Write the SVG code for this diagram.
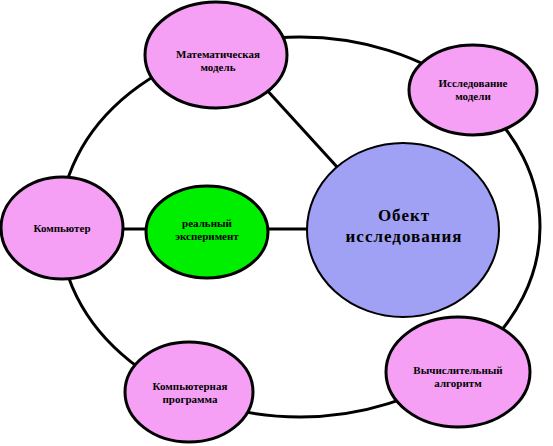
<svg xmlns="http://www.w3.org/2000/svg" width="553" height="446" viewBox="0 0 553 446">
<style>
.n{fill:#f5a0f5;stroke:#000;stroke-width:3}
.g{fill:#00ee00;stroke:#000;stroke-width:3}
.b{fill:#a0a0f5;stroke:#000;stroke-width:2}
.c{fill:none;stroke:#000;stroke-width:3}
text{font-family:"Liberation Serif","DejaVu Serif",serif;font-weight:bold;font-size:11px;text-anchor:middle;fill:#000}
.big{font-size:17px;letter-spacing:1px}
</style>
<rect width="553" height="446" fill="#fff"/>
<g id="connectors">
<ellipse class="c" cx="300" cy="227" rx="240" ry="190"/>
<line class="c" x1="265" y1="88" x2="338" y2="168"/>
<line class="c" x1="123" y1="229" x2="146" y2="229"/>
<line class="c" x1="268" y1="229" x2="308" y2="229"/>
</g>
<g id="mathmodel">
<ellipse class="n" cx="216" cy="55" rx="71" ry="53"/>
<text x="218" y="58">Математическая</text>
<text x="218" y="71">модель</text>
</g>
<g id="issledovanie">
<ellipse class="n" cx="473" cy="90" rx="64" ry="45"/>
<text x="473" y="87">Исследование</text>
<text x="473" y="100">модели</text>
</g>
<g id="computer">
<ellipse class="n" cx="62" cy="228" rx="61" ry="51"/>
<text x="62" y="232">Компьютер</text>
</g>
<g id="realexp">
<ellipse class="g" cx="207" cy="232" rx="61" ry="46"/>
<text x="207" y="227">реальный</text>
<text x="207" y="240">эксперимент</text>
</g>
<g id="object">
<ellipse class="b" cx="403" cy="230" rx="96" ry="87"/>
<text class="big" x="404" y="221">Обект</text>
<text class="big" x="404" y="242">исследования</text>
</g>
<g id="program">
<ellipse class="n" cx="189" cy="392" rx="64" ry="50"/>
<text x="190" y="390">Компьютерная</text>
<text x="190" y="403">программа</text>
</g>
<g id="algorithm">
<ellipse class="n" cx="458" cy="372" rx="72" ry="55"/>
<text x="458" y="374">Вычислительный</text>
<text x="458" y="387">алгоритм</text>
</g>
</svg>
